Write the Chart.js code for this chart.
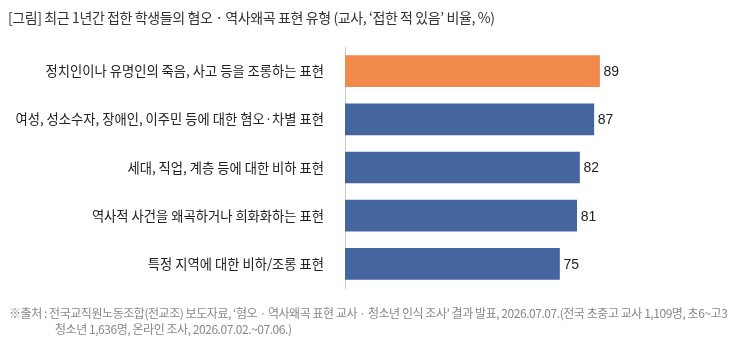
<!DOCTYPE html>
<html>
<head>
<meta charset="utf-8">
<script src="https://cdn.jsdelivr.net/npm/chart.js@4/dist/chart.umd.min.js"></script>
<style>
  body { margin: 0; background: #fff; font-family: "Noto Sans CJK KR", "Noto Sans", sans-serif; }
  #wrap { position: relative; width: 731px; height: 343px; overflow: hidden; }
  #chart { position: absolute; left: 0; top: 0; }
  .title { position: absolute; left: 8px; top: 7px; font-size: 14px; color: #333; letter-spacing: -0.4px; white-space: nowrap; }
  .note { position: absolute; left: 9px; top: 305px; font-size: 12px; color: #888; line-height: 16px; letter-spacing: -0.45px; white-space: nowrap; }
  .note .indent { padding-left: 46px; }
</style>
</head>
<body>
<div id="wrap">
  <canvas id="chart" width="731" height="343"></canvas>
  <div class="title">[그림] 최근 1년간 접한 학생들의 혐오 · 역사왜곡 표현 유형 (교사, ‘접한 적 있음’ 비율, %)</div>
  <div class="note">
    <div>※출처 : 전국교직원노동조합(전교조) 보도자료, ‘혐오 · 역사왜곡 표현 교사 · 청소년 인식 조사’ 결과 발표, 2026.07.07.(전국 초중고 교사 1,109명, 초6~고3</div>
    <div class="indent">청소년 1,636명, 온라인 조사, 2026.07.02.~07.06.)</div>
  </div>
</div>
<script>
const categories = [
  "정치인이나 유명인의 죽음, 사고 등을 조롱하는 표현",
  "여성, 성소수자, 장애인, 이주민 등에 대한 혐오·차별 표현",
  "세대, 직업, 계층 등에 대한 비하 표현",
  "역사적 사건을 왜곡하거나 희화화하는 표현",
  "특정 지역에 대한 비하/조롱 표현"
];
const values = [89, 87, 82, 81, 75];
const barColors = ["#F0894A", "#44659E", "#44659E", "#44659E", "#44659E"];

// draws the number just right of each bar
const valueLabels = {
  id: "valueLabels",
  afterDatasetsDraw(chart) {
    const ctx = chart.ctx;
    const meta = chart.getDatasetMeta(0);
    ctx.save();
    ctx.font = '14px "Liberation Sans", Arial, sans-serif';
    ctx.fillStyle = "#222";
    ctx.textBaseline = "middle";
    ctx.textAlign = "left";
    meta.data.forEach((bar, i) => {
      ctx.fillText(String(values[i]), bar.x + 4, bar.y + 1);
    });
    ctx.restore();
  }
};

new Chart(document.getElementById("chart"), {
  type: "bar",
  data: {
    labels: categories,
    datasets: [{
      data: values,
      backgroundColor: barColors,
      barThickness: 31,
      borderWidth: 0
    }]
  },
  options: {
    indexAxis: "y",
    responsive: false,
    animation: false,
    layout: { padding: { top: 47, bottom: 55, right: 100, left: 0 } },
    plugins: { legend: { display: false }, tooltip: { enabled: false } },
    scales: {
      x: { display: false, min: 0, max: 100 },
      y: {
        afterFit: (scale) => { scale.width = 345; },
        grid: { display: false, drawTicks: false },
        border: { display: true, color: "#c8c8c8", width: 1 },
        ticks: {
          padding: 21,
          color: "#222",
          font: { family: '"Noto Sans CJK KR", sans-serif', size: 13.3 }
        }
      }
    }
  },
  plugins: [valueLabels]
});
</script>
</body>
</html>
